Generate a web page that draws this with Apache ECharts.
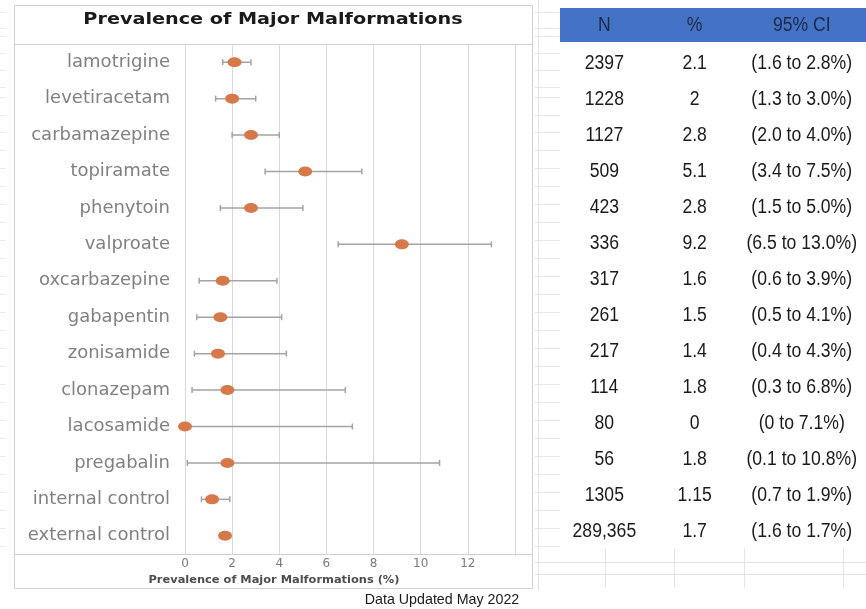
<!DOCTYPE html>
<html>
<head>
<meta charset="utf-8">
<title>Prevalence of Major Malformations</title>
<script src="https://cdn.jsdelivr.net/npm/echarts@6/dist/echarts.min.js"></script>
<style>
  html, body { margin: 0; padding: 0; background: #ffffff; }
  #chart { width: 866px; height: 609px; }
</style>
</head>
<body>
<div id="chart"></div>
<script>
// Exposure groups, top to bottom
const drugs = [
  'lamotrigine', 'levetiracetam', 'carbamazepine', 'topiramate', 'phenytoin',
  'valproate', 'oxcarbazepine', 'gabapentin', 'zonisamide', 'clonazepam',
  'lacosamide', 'pregabalin', 'internal control', 'external control'
];
// Number of exposed pregnancies
const sampleN = ['2397', '1228', '1127', '509', '423', '336', '317', '261', '217', '114', '80', '56', '1305', '289,365'];
// Prevalence of major malformations (%)
const prevalence = [2.1, 2, 2.8, 5.1, 2.8, 9.2, 1.6, 1.5, 1.4, 1.8, 0, 1.8, 1.15, 1.7];
// 95% confidence interval bounds (%)
const ciLow  = [1.6, 1.3, 2.0, 3.4, 1.5, 6.5, 0.6, 0.5, 0.4, 0.3, 0, 0.1, 0.7, 1.6];
const ciHigh = [2.8, 3.0, 4.0, 7.5, 5.0, 13.0, 3.9, 4.1, 4.3, 6.8, 7.1, 10.8, 1.9, 1.7];
// Table header
const tableHeader = ['N', '%', '95% CI'];
// x-axis ticks
const xTicks = [0, 2, 4, 6, 8, 10, 12, 14];
const xTickLabels = ['0', '2', '4', '6', '8', '10', '12', ''];

const fmtBound = v => (v === 0 ? '0' : v.toFixed(1));
const ciText = ciLow.map((lo, i) => '(' + fmtBound(lo) + ' to ' + fmtBound(ciHigh[i]) + '%)');

const chartFont = "'DejaVu Sans', Verdana, sans-serif";
const sheetFont = "'Liberation Sans', Arial, sans-serif";
const sheetScale = 0.88;     // condensed look for the spreadsheet text
const gridGray = '#d9d9d9';
const frameGray = '#d0d0d0';

const chart = echarts.init(document.getElementById('chart'), null, { renderer: 'canvas' });

// Column centres inside the table, as fractions of its width
const colCenter = [0.145, 0.44, 0.79];

// Faint spreadsheet cell lines around the panels
const sheetLines = [];
(function () {
  const ys = [12, 28, 36, 53, 70, 87, 97, 115, 132, 150, 168, 186, 204, 222, 240, 258, 276, 294, 312, 330, 348, 366, 384, 402, 420, 438, 456, 474, 492, 510, 528, 546];
  ys.forEach(y => {
    sheetLines.push({ type: 'line', shape: { x1: 535, y1: y + 0.5, x2: 560, y2: y + 0.5 }, style: { stroke: '#e6e6e6', lineWidth: 1 }, z: 0 });
    sheetLines.push({ type: 'line', shape: { x1: 0, y1: y + 0.5, x2: 6, y2: y + 0.5 }, style: { stroke: '#ececec', lineWidth: 1 }, z: 0 });
  });
  [562, 574].forEach(y => sheetLines.push({ type: 'line', shape: { x1: 535, y1: y + 0.5, x2: 866, y2: y + 0.5 }, style: { stroke: '#e3e3e3', lineWidth: 1 }, z: 0 }));
  [605, 674, 744, 843].forEach(x => sheetLines.push({ type: 'line', shape: { x1: x + 0.5, y1: 548, x2: x + 0.5, y2: 588 }, style: { stroke: '#e3e3e3', lineWidth: 1 }, z: 0 }));
  sheetLines.push({ type: 'line', shape: { x1: 538.5, y1: 0, x2: 538.5, y2: 590 }, style: { stroke: '#e3e3e3', lineWidth: 1 }, z: 0 });
})();

const option = {
  backgroundColor: '#ffffff',
  animation: false,
  grid: [
    { left: 185, right: 351, top: 44, bottom: 55, containLabel: false },
    { left: 560, right: 0, top: 45, bottom: 59, containLabel: false }
  ],
  xAxis: [
    {
      gridIndex: 0, type: 'value', min: 0, max: 14, interval: 2,
      axisLine: { show: false }, axisTick: { show: false },
      splitLine: { show: true, lineStyle: { color: gridGray, width: 1 } },
      axisLabel: {
        margin: 4, color: '#7a7a7a', fontSize: 12, fontFamily: chartFont,
        formatter: v => xTickLabels[xTicks.indexOf(v)] || ''
      }
    },
    { gridIndex: 1, type: 'value', min: 0, max: 1, show: false }
  ],
  yAxis: [
    {
      gridIndex: 0, type: 'category', data: drugs, inverse: true,
      axisLine: { show: false }, axisTick: { show: false }, splitLine: { show: false },
      axisLabel: { margin: 15, color: '#808080', fontSize: 18, fontFamily: chartFont }
    },
    { gridIndex: 1, type: 'category', data: drugs, inverse: true, show: false }
  ],
  graphic: sheetLines.concat([
    // chart frame
    { type: 'rect', shape: { x: 14.5, y: 5.5, width: 518, height: 583 }, style: { fill: 'none', stroke: frameGray, lineWidth: 1 }, z: 1 },
    { type: 'line', shape: { x1: 14.5, y1: 44.5, x2: 532.5, y2: 44.5 }, style: { stroke: frameGray, lineWidth: 1 }, z: 1 },
    { type: 'line', shape: { x1: 14.5, y1: 554.5, x2: 532.5, y2: 554.5 }, style: { stroke: frameGray, lineWidth: 1 }, z: 1 },
    // chart title
    {
      type: 'text', x: 273, y: 20, scaleX: 1.2, z: 3,
      style: { text: 'Prevalence of Major Malformations', align: 'center', verticalAlign: 'middle',
               fontFamily: chartFont, fontWeight: 'bold', fontSize: 16, fill: '#1a1a1a' }
    },
    // x-axis title
    {
      type: 'text', x: 274, y: 580, scaleX: 1.14, z: 3,
      style: { text: 'Prevalence of Major Malformations (%)', align: 'center', verticalAlign: 'middle',
               fontFamily: chartFont, fontWeight: 'bold', fontSize: 10, fill: '#4d4d4d' }
    },
    // update note
    {
      type: 'text', x: 442, y: 600, scaleX: 0.95, z: 3,
      style: { text: 'Data Updated May 2022', align: 'center', verticalAlign: 'middle',
               fontFamily: sheetFont, fontSize: 15, fill: '#1a1a1a' }
    },
    // table header band
    { type: 'rect', shape: { x: 560, y: 8, width: 306, height: 34 }, style: { fill: '#4472c4' }, z: 2 }
  ].concat(tableHeader.map((h, i) => ({
    type: 'text', z: 3, x: 560 + colCenter[i] * 306, y: 25, scaleX: sheetScale,
    style: {
      text: h, align: 'center', verticalAlign: 'middle',
      fontFamily: sheetFont, fontSize: 20, fill: '#1c2a4a'
    }
  })))),
  series: [
    {
      // 95% CI whiskers with end caps
      type: 'custom', xAxisIndex: 0, yAxisIndex: 0, z: 3,
      data: drugs.map((d, i) => [ciLow[i], ciHigh[i], i]),
      encode: { x: [0, 1], y: 2 },
      renderItem: (params, api) => {
        const a = api.coord([api.value(0), api.value(2)]);
        const b = api.coord([api.value(1), api.value(2)]);
        const cap = 3;
        const st = { stroke: '#a3a3a3', lineWidth: 1.5 };
        return {
          type: 'group',
          children: [
            { type: 'line', shape: { x1: a[0], y1: a[1], x2: b[0], y2: b[1] }, style: st },
            { type: 'line', shape: { x1: a[0], y1: a[1] - cap, x2: a[0], y2: a[1] + cap }, style: st },
            { type: 'line', shape: { x1: b[0], y1: b[1] - cap, x2: b[0], y2: b[1] + cap }, style: st }
          ]
        };
      }
    },
    {
      // point estimates
      type: 'scatter', xAxisIndex: 0, yAxisIndex: 0, z: 4,
      symbol: 'circle', symbolSize: [14, 10],
      itemStyle: { color: '#d6794a', opacity: 1 },
      data: prevalence.map((v, i) => [v, drugs[i]])
    },
    {
      // N, % and CI columns
      type: 'custom', xAxisIndex: 1, yAxisIndex: 1, z: 3,
      data: drugs.map((d, i) => [0, i]),
      encode: { x: 0, y: 1 },
      renderItem: (params, api) => {
        const i = api.value(1);
        const y = api.coord([0, i])[1];
        const x0 = params.coordSys.x, w = params.coordSys.width;
        const cells = [sampleN[i], String(prevalence[i]), ciText[i]];
        return {
          type: 'group',
          children: cells.map((t, c) => ({
            type: 'text', x: x0 + colCenter[c] * w, y: y, scaleX: sheetScale,
            style: {
              text: t, align: 'center', verticalAlign: 'middle',
              fontFamily: sheetFont, fontSize: 20, fill: '#1a1a1a'
            }
          }))
        };
      }
    }
  ]
};

chart.setOption(option);
</script>
</body>
</html>
